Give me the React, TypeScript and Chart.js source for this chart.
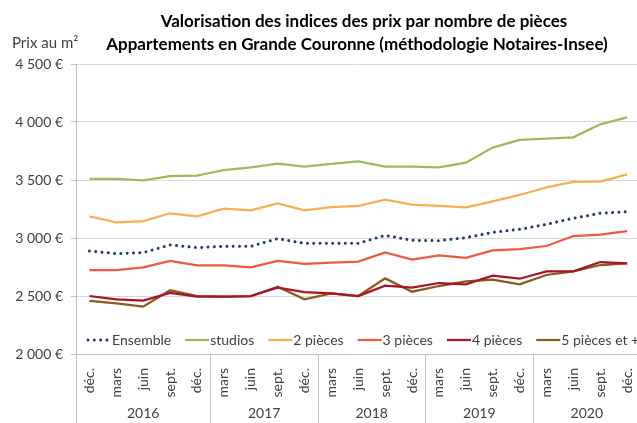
import React, { useEffect, useRef } from "react";
import { Chart, registerables } from "chart.js";

Chart.register(...registerables);

const titleLines = [
  "Valorisation des indices des prix par nombre de pièces",
  "Appartements en Grande Couronne (méthodologie Notaires-Insee)",
];
const yUnit = "Prix au m²";

const months = [
  "déc.", "mars", "juin", "sept.", "déc.",
  "mars", "juin", "sept.", "déc.",
  "mars", "juin", "sept.", "déc.",
  "mars", "juin", "sept.", "déc.",
  "mars", "juin", "sept.", "déc.",
];
const years = ["2016", "2017", "2018", "2019", "2020"];
const yearSpans = [5, 4, 4, 4, 4];

const ensemble = [2888, 2865, 2874, 2940, 2917, 2928, 2928, 2994, 2954, 2954, 2954, 3023, 2980, 2977, 3003, 3049, 3075, 3118, 3170, 3213, 3227];
const studios = [3509, 3509, 3497, 3534, 3537, 3586, 3609, 3641, 3615, 3638, 3661, 3615, 3615, 3609, 3649, 3779, 3845, 3856, 3868, 3980, 4040];
const pieces2 = [3187, 3135, 3146, 3213, 3187, 3253, 3238, 3299, 3238, 3267, 3276, 3330, 3287, 3276, 3264, 3316, 3371, 3437, 3483, 3486, 3549];
const pieces3 = [2724, 2724, 2747, 2802, 2764, 2764, 2747, 2802, 2776, 2787, 2796, 2876, 2813, 2851, 2828, 2894, 2905, 2931, 3017, 3029, 3060];
const pieces4 = [2500, 2471, 2460, 2526, 2494, 2494, 2500, 2572, 2534, 2523, 2500, 2589, 2572, 2612, 2601, 2675, 2649, 2713, 2713, 2793, 2782];
const pieces5 = [2457, 2437, 2408, 2549, 2500, 2494, 2497, 2580, 2471, 2523, 2500, 2652, 2537, 2586, 2626, 2641, 2601, 2681, 2713, 2767, 2782];

const seriesNames = ["Ensemble", "studios", "2 pièces", "3 pièces", "4 pièces", "5 pièces et +"];
const seriesColors = ["#1F3A6E", "#9BBB59", "#F9AE4F", "#EC5A40", "#A8122B", "#8B5A1C"];

const yMin = 2000;
const yMax = 4500;
const yStep = 500;

const FONT = "Lato, 'Liberation Sans', sans-serif";
const TEXT = "#404040";
const DOT_DASH = [0.01, 6.3];

function fmtEuro(v: number) {
  const th = Math.floor(v / 1000);
  const rest = String(v % 1000).padStart(3, "0");
  return `${th} ${rest} €`;
}

const overlay = {
  id: "overlay",
  afterDraw(chart: any) {
    const { ctx, chartArea, scales } = chart;
    const x = scales.x;
    ctx.save();
    // Title
    ctx.fillStyle = "#000000";
    ctx.font = `bold 17px ${FONT}`;
    ctx.textAlign = "center";
    ctx.textBaseline = "middle";
    ctx.fillText(titleLines[0], 364, 22);
    ctx.fillText(titleLines[1], 357, 45);
    // y unit
    ctx.font = `15px ${FONT}`;
    ctx.textAlign = "left";
    ctx.fillStyle = TEXT;
    ctx.fillText(yUnit, 12, 43);

    // year separators + labels
    const bounds: number[] = [x.left];
    let idx = 0;
    yearSpans.forEach((span) => {
      idx += span;
      const b = idx < months.length
        ? (x.getPixelForValue(idx - 1) + x.getPixelForValue(idx)) / 2
        : x.right;
      bounds.push(b);
    });
    ctx.strokeStyle = "#BFBFBF";
    ctx.lineWidth = 1;
    bounds.forEach((b) => {
      const px = Math.round(b) + 0.5;
      ctx.beginPath();
      ctx.moveTo(px, chartArea.bottom);
      ctx.lineTo(px, chart.height);
      ctx.stroke();
    });
    ctx.fillStyle = TEXT;
    ctx.font = `14px ${FONT}`;
    ctx.textAlign = "center";
    ctx.textBaseline = "middle";
    years.forEach((yr, i) => {
      ctx.fillText(yr, (bounds[i] + bounds[i + 1]) / 2, 413);
    });

    // legend
    let lx = 87;
    const ly = 340;
    ctx.textAlign = "left";
    ctx.textBaseline = "middle";
    seriesNames.forEach((name, i) => {
      ctx.save();
      ctx.strokeStyle = seriesColors[i];
      ctx.beginPath();
      if (i === 0) {
        ctx.lineWidth = 3;
        ctx.lineCap = "round";
        ctx.setLineDash(DOT_DASH);
        ctx.moveTo(lx + 1, ly);
        ctx.lineTo(lx + 22, ly);
      } else {
        ctx.lineWidth = 2.25;
        ctx.moveTo(lx, ly);
        ctx.lineTo(lx + 24, ly);
      }
      ctx.stroke();
      ctx.restore();
      ctx.fillStyle = TEXT;
      ctx.fillText(name, lx + 25, ly);
      lx += 25 + ctx.measureText(name).width + 14;
    });
    ctx.restore();
  },
};

export default function App() {
  const ref = useRef<HTMLCanvasElement>(null);
  useEffect(() => {
    if (!ref.current) return;
    const values = [ensemble, studios, pieces2, pieces3, pieces4, pieces5];
    const chart = new Chart(ref.current, {
      type: "line",
      data: {
        labels: months,
        datasets: values.map((d, i) => ({
          label: seriesNames[i],
          data: d,
          borderColor: seriesColors[i],
          backgroundColor: seriesColors[i],
          borderWidth: i === 0 ? 3 : 2.25,
          borderDash: i === 0 ? DOT_DASH : [],
          borderCapStyle: i === 0 ? "round" : "butt",
          pointRadius: 0,
          tension: 0,
          fill: false,
        })),
      },
      options: {
        responsive: false,
        animation: false,
        devicePixelRatio: 1,
        layout: { padding: { top: 64, right: 3, left: 0, bottom: 0 } },
        plugins: {
          legend: { display: false },
          title: { display: false },
          tooltip: { enabled: false },
        },
        scales: {
          x: {
            offset: true,
            grid: { display: false },
            border: { display: true, color: "#BFBFBF", width: 1 },
            ticks: {
              autoSkip: false,
              minRotation: 90,
              maxRotation: 90,
              padding: 6,
              color: TEXT,
              font: { family: FONT, size: 14 },
            },
            afterFit: (s: any) => { s.height = 69; },
          },
          y: {
            min: yMin,
            max: yMax,
            grid: { color: "#D9D9D9", tickLength: 5, drawTicks: true, tickColor: "#BFBFBF" },
            border: { display: true, color: "#BFBFBF", width: 1 },
            ticks: {
              stepSize: yStep,
              padding: 8,
              color: TEXT,
              font: { family: FONT, size: 14 },
              callback: (v: any) => fmtEuro(Number(v)),
            },
            afterFit: (s: any) => { s.width = 76; },
          },
        },
      },
      plugins: [overlay],
    });
    return () => chart.destroy();
  }, []);
  return (
    <div style={{ position: "fixed", left: 0, top: 0, width: 637, height: 423, overflow: "hidden", background: "#fff" }}>
      <canvas ref={ref} width={650} height={423} style={{ width: 650, height: 423, display: "block" }} />
    </div>
  );
}
